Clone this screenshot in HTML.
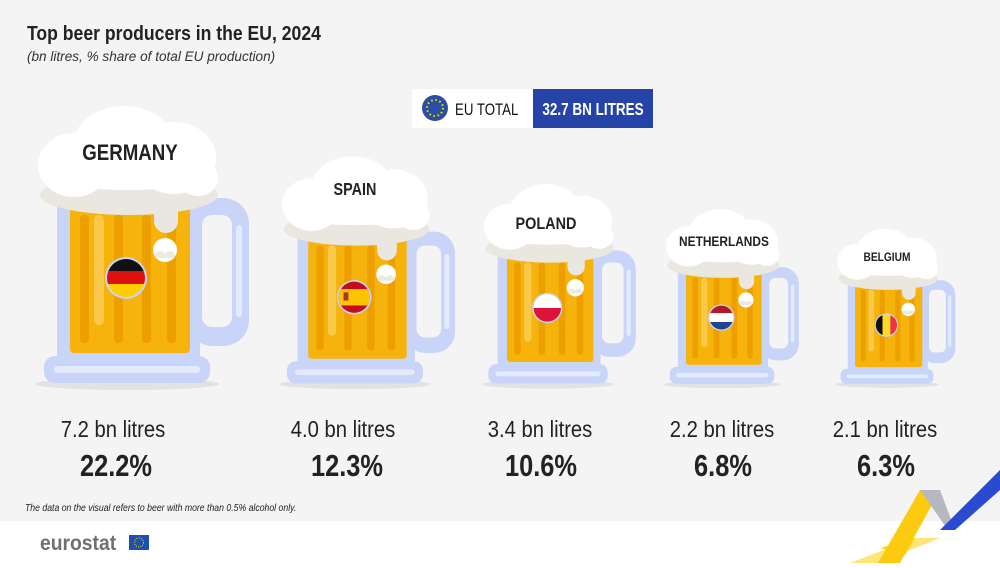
<!DOCTYPE html>
<html><head><meta charset="utf-8"><style>
body{margin:0;width:1000px;height:563px;overflow:hidden;font-family:"Liberation Sans",sans-serif;}
</style></head><body>
<svg width="1000" height="563" xmlns="http://www.w3.org/2000/svg" font-family="Liberation Sans, sans-serif">
<defs>
<clipPath id="fc"><circle cx="124" cy="278" r="19"/></clipPath>
<g id="mug">
 <ellipse cx="125" cy="384" rx="92" ry="6" fill="#e2e2e2"/>
 <rect x="185" y="198" width="62" height="148" rx="26" fill="#c8d4f8"/>
 <rect x="200" y="215" width="30" height="112" rx="10" fill="#f4f4f4"/>
 <rect x="234" y="225" width="6" height="92" rx="3" fill="#e3eafc"/>
 <rect x="55" y="195" width="143" height="168" rx="8" fill="#c8d4f8"/>
 <rect x="68" y="205" width="120" height="148" rx="4" fill="#f5b30c"/>
 <rect x="78" y="215" width="9" height="128" rx="4" fill="#ee9f00"/>
 <rect x="112" y="215" width="9" height="128" rx="4" fill="#ee9f00"/>
 <rect x="140" y="215" width="9" height="128" rx="4" fill="#ee9f00"/>
 <rect x="165" y="215" width="9" height="128" rx="4" fill="#ee9f00"/>
 <rect x="92" y="215" width="10" height="110" rx="5" fill="#fbc94a"/>
 <rect x="42" y="356" width="166" height="27" rx="11" fill="#c8d4f8"/>
 <rect x="52" y="366" width="146" height="7" rx="3.5" fill="#e3eafc"/>
 <ellipse cx="127" cy="195" rx="89" ry="20" fill="#e9e7e0"/>
 <rect x="152" y="185" width="24" height="48" rx="12" fill="#e9e7e0"/>
 <ellipse cx="80" cy="198" rx="22" ry="12" fill="#e9e7e0"/>
 <ellipse cx="72" cy="165" rx="36" ry="32" fill="#fff"/>
 <ellipse cx="122" cy="148" rx="52" ry="42" fill="#fff"/>
 <ellipse cx="172" cy="158" rx="42" ry="36" fill="#fff"/>
 <ellipse cx="196" cy="178" rx="20" ry="18" fill="#fff"/>
 <ellipse cx="127" cy="176" rx="88" ry="14" fill="#fff"/>
 <circle cx="163" cy="250" r="12" fill="#fff"/>
 <path d="M153 254 q5 -6 10 0 q5 -6 10 0 v4 h-20z" fill="#ece9e0"/>
 <circle cx="124" cy="278" r="21" fill="#c8d4f8"/>
</g>
</defs>
<rect width="1000" height="521" fill="#f4f4f4"/>
<rect y="521" width="1000" height="42" fill="#fff"/>
<text x="27" y="40" font-size="20" font-weight="bold" fill="#222" transform="scale(0.88,1)" style="transform-origin:27px 40px">Top beer producers in the EU, 2024</text>
<text x="27" y="61" font-size="14" font-style="italic" fill="#333" transform="scale(0.97,1)" style="transform-origin:27px 61px">(bn litres, % share of total EU production)</text>
<rect x="412" y="89" width="121" height="39" fill="#fff"/>
<circle cx="435" cy="108" r="13" fill="#2a4ea0"/>
<circle cx="435" cy="108" r="8" fill="none" stroke="#ffdd00" stroke-width="2" stroke-dasharray="1.5 2.7"/>
<text x="455" y="115" font-size="17" fill="#111" transform="scale(0.78,1)" style="transform-origin:455px 115px">EU TOTAL</text>
<rect x="533" y="89" width="120" height="39" fill="#2644a8"/>
<text x="593" y="115" font-size="18" font-weight="bold" fill="#fff" text-anchor="middle" transform="scale(0.75,1)" style="transform-origin:593px 115px">32.7 BN LITRES</text>

<g transform="translate(127,385) scale(1) translate(-125,-385)">
 <use href="#mug"/>
 <g clip-path="url(#fc)"><rect x="100" y="255" width="50" height="16" fill="#111"/><rect x="100" y="271" width="50" height="13" fill="#dd1010"/><rect x="100" y="284" width="50" height="20" fill="#ffce00"/></g>
</g>
<text x="130" y="160" font-size="22" font-weight="bold" fill="#222" text-anchor="middle" transform="scale(0.85,1)" style="transform-origin:130px 160px">GERMANY</text>
<g transform="translate(355,385) scale(0.82) translate(-125,-385)">
 <use href="#mug"/>
 <g clip-path="url(#fc)"><rect x="100" y="255" width="50" height="50" fill="#c60b1e"/><rect x="100" y="268" width="50" height="20" fill="#ffc400"/><rect x="111" y="272" width="6" height="10" fill="#a33"/></g>
</g>
<text x="355" y="195" font-size="18" font-weight="bold" fill="#222" text-anchor="middle" transform="scale(0.8,1)" style="transform-origin:355px 195px">SPAIN</text>
<g transform="translate(548,385) scale(0.72) translate(-125,-385)">
 <use href="#mug"/>
 <g clip-path="url(#fc)"><rect x="100" y="255" width="50" height="23" fill="#fff"/><rect x="100" y="278" width="50" height="25" fill="#dc143c"/></g>
</g>
<text x="546" y="229" font-size="17" font-weight="bold" fill="#222" text-anchor="middle" transform="scale(0.85,1)" style="transform-origin:546px 229px">POLAND</text>
<g transform="translate(722,385) scale(0.63) translate(-125,-385)">
 <use href="#mug"/>
 <g clip-path="url(#fc)"><rect x="100" y="255" width="50" height="16" fill="#ae1c28"/><rect x="100" y="271" width="50" height="14" fill="#fff"/><rect x="100" y="285" width="50" height="20" fill="#21468b"/></g>
</g>
<text x="724" y="246" font-size="14" font-weight="bold" fill="#222" text-anchor="middle" transform="scale(0.85,1)" style="transform-origin:724px 246px">NETHERLANDS</text>
<g transform="translate(887,385) scale(0.56) translate(-125,-385)">
 <use href="#mug"/>
 <g clip-path="url(#fc)"><rect x="100" y="255" width="17" height="50" fill="#111"/><rect x="117" y="255" width="14" height="50" fill="#fdda24"/><rect x="131" y="255" width="20" height="50" fill="#ef3340"/></g>
</g>
<text x="887" y="261" font-size="12" font-weight="bold" fill="#222" text-anchor="middle" transform="scale(0.85,1)" style="transform-origin:887px 261px">BELGIUM</text>

<g font-size="23" fill="#222" text-anchor="middle">
<text x="113" y="437" transform="scale(0.88,1)" style="transform-origin:113px 437px">7.2 bn litres</text>
<text x="343" y="437" transform="scale(0.88,1)" style="transform-origin:343px 437px">4.0 bn litres</text>
<text x="540" y="437" transform="scale(0.88,1)" style="transform-origin:540px 437px">3.4 bn litres</text>
<text x="722" y="437" transform="scale(0.88,1)" style="transform-origin:722px 437px">2.2 bn litres</text>
<text x="885" y="437" transform="scale(0.88,1)" style="transform-origin:885px 437px">2.1 bn litres</text>
</g>
<g font-size="31" font-weight="bold" fill="#222" text-anchor="middle">
<text x="116" y="476" transform="scale(0.82,1)" style="transform-origin:116px 476px">22.2%</text>
<text x="347" y="476" transform="scale(0.82,1)" style="transform-origin:347px 476px">12.3%</text>
<text x="541" y="476" transform="scale(0.82,1)" style="transform-origin:541px 476px">10.6%</text>
<text x="723" y="476" transform="scale(0.82,1)" style="transform-origin:723px 476px">6.8%</text>
<text x="886" y="476" transform="scale(0.82,1)" style="transform-origin:886px 476px">6.3%</text>
</g>
<text x="25" y="511" font-size="10" font-style="italic" fill="#222" transform="scale(0.87,1)" style="transform-origin:25px 511px">The data on the visual refers to beer with more than 0.5% alcohol only.</text>
<text x="40" y="550" font-size="21" font-weight="bold" fill="#707070" transform="scale(0.92,1)" style="transform-origin:40px 550px">eurostat</text>
<rect x="129" y="535" width="20" height="15" fill="#1f4fb0"/>
<circle cx="139" cy="542.5" r="4.5" fill="none" stroke="#ffdd00" stroke-width="1" stroke-dasharray="1 1.3"/>
<polygon points="850,563 878,563 940,538 915,538" fill="#ffd617" opacity="0.6"/>
<polygon points="880,548 915,538 905,555" fill="#ffd617"/>
<polygon points="878,563 920,490 940,490 900,563" fill="#fccb10"/>
<polygon points="920,490 940,490 955,530 948,530" fill="#b5b8c0"/>
<polygon points="940,530 1000,470 1000,490 955,530" fill="#2a4ad0"/>
</svg>
</body></html>
